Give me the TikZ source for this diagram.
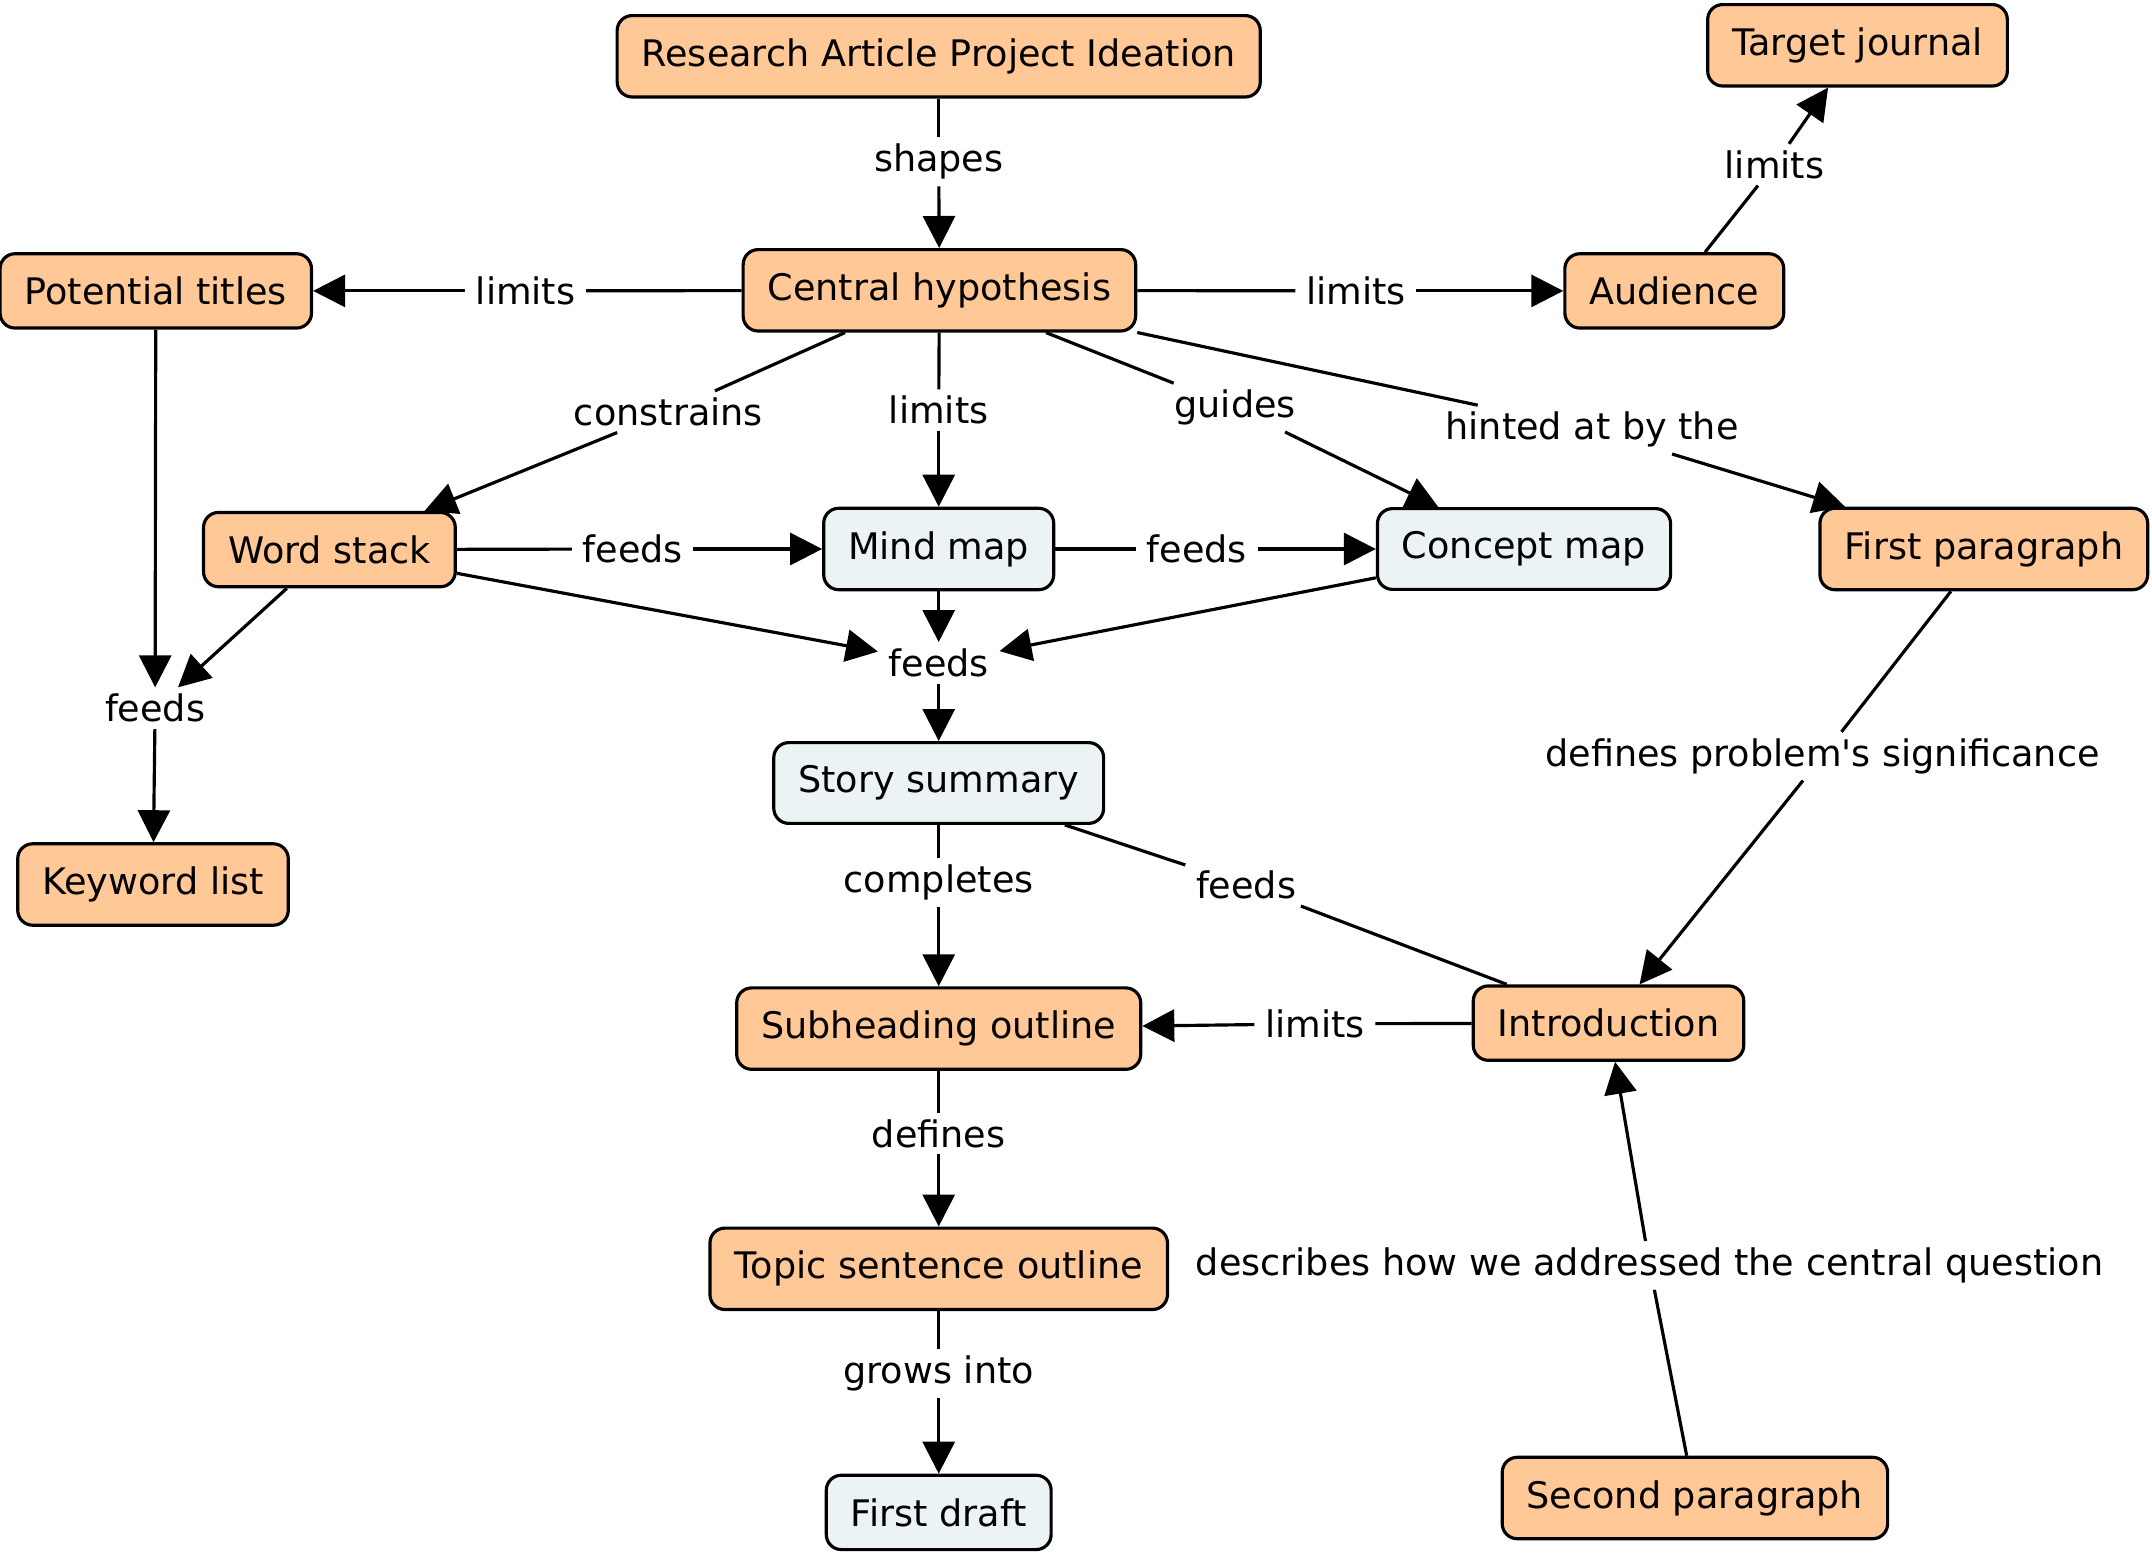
\documentclass[tikz,border=0pt]{standalone}
\usepackage{fontspec}
\setmainfont{DejaVu Sans}[Ligatures=TeXOff]
\usetikzlibrary{arrows.meta}
\definecolor{peach}{RGB}{255,200,150}
\definecolor{paleblue}{RGB}{236,243,245}
\newcommand{\cmaparrow}{Triangle[length=3.2mm,width=3.2mm]}
\tikzset{
  concept/.style={draw, line width=0.9pt, rounded corners=1.5mm, fill=peach,
    inner xsep=2.45mm, inner ysep=2.3mm, font=\fontsize{10.4}{12}\selectfont},
  resource/.style={concept, fill=paleblue},
  phrase/.style={inner xsep=1mm, inner ysep=0.6mm, font=\fontsize{10.4}{12}\selectfont},
  link/.style={line width=0.9pt},
  tolink/.style={link, -\cmaparrow},
}
\begin{document}
\begin{tikzpicture}[x=0.01cm, y=-0.01cm]
  % frame is (0,0) to (2152,1555), y going down
  \useasboundingbox (0,0) rectangle (2152,1555);

  % concepts
  \node[concept] (rap) at (938.7, 56.3) {Research Article Project Ideation};
  \node[concept] (tj) at (1857.5, 45.3) {Target journal};
  \node[concept] (hyp) at (939.4, 290.3) {Central hypothesis};
  \node[concept] (pt) at (155.8, 290.9) {Potential titles};
  \node[concept] (aud) at (1674.3, 290.9) {Audience};
  \node[concept] (ws) at (329.4, 549.6) {Word stack};
  \node[resource] (mm) at (938.7, 549) {Mind map};
  \node[resource] (cm) at (1524, 549) {Concept map};
  \node[concept] (fp) at (1983.8, 549) {First paragraph};
  \node[resource] (ss) at (938.7, 783) {Story summary};
  \node[concept] (kl) at (153, 884.5) {Keyword list};
  \node[concept] (so) at (938.7, 1028.6) {Subheading outline};
  \node[concept] (intro) at (1608.5, 1023.1) {Introduction};
  \node[concept] (tso) at (938.7, 1268.8) {Topic sentence outline};
  \node[resource] (fd) at (938.7, 1512.4) {First draft};
  \node[concept] (sp) at (1694.9, 1498) {Second paragraph};

  % linking phrases
  \node[phrase] (shapes) at (938.7, 161.9) {shapes};
  \node[phrase] (limpt) at (525.6, 290.9) {limits};
  \node[phrase] (limaud) at (1355.9, 290.9) {limits};
  \node[phrase] (limtj) at (1774.5, 164.7) {limits};
  \node[phrase] (constr) at (668.4, 411.7) {constrains};
  \node[phrase] (limmm) at (938.7, 410.3) {limits};
  \node[phrase] (guides) at (1235.2, 407.6) {guides};
  \node[phrase] (hinted) at (1592, 429.6) {hinted at by the};
  \node[phrase] (feedwm) at (632.7, 549) {feeds};
  \node[phrase] (feedmc) at (1196.7, 549) {feeds};
  \node[phrase] (feedc) at (938.7, 662.9) {feeds};
  \node[phrase] (feedl) at (155.1, 708.2) {feeds};
  \node[phrase] (defsig) at (1822.5, 756.2) {defines problem's significance};
  \node[phrase] (compl) at (938.7, 882.5) {completes};
  \node[phrase] (feedsi) at (1246.1, 885.2) {feeds};
  \node[phrase] (limso) at (1314.8, 1023.8) {limits};
  \node[phrase] (defs) at (938.7, 1133.6) {defines};
  \node[phrase] (grows) at (938.7, 1373.8) {grows into};
  \node[phrase] (descr) at (1649.6, 1265.4) {describes how we addressed the central question};

  % links
  \draw[link] (rap) -- (shapes);
  \draw[tolink] (shapes) -- (hyp);
  \draw[link] (hyp) -- (limpt);
  \draw[tolink] (limpt) -- (pt);
  \draw[link] (hyp) -- (limaud);
  \draw[tolink] (limaud) -- (aud);
  \draw[link] (aud) -- (limtj);
  \draw[tolink] (limtj) -- (tj);
  \draw[link] (hyp) -- (constr);
  \draw[tolink] (constr) -- (ws);
  \draw[link] (hyp) -- (limmm);
  \draw[tolink] (limmm) -- (mm);
  \draw[link] (hyp) -- (guides);
  \draw[tolink] (guides) -- (cm);
  \draw[link] (hyp) -- (hinted);
  \draw[tolink] (hinted) -- (fp);
  \draw[link] (ws) -- (feedwm);
  \draw[tolink] (feedwm) -- (mm);
  \draw[link] (mm) -- (feedmc);
  \draw[tolink] (feedmc) -- (cm);
  \draw[tolink] (ws) -- (feedc);
  \draw[tolink] (mm) -- (feedc);
  \draw[tolink] (cm) -- (feedc);
  \draw[tolink] (feedc) -- (ss);
  \draw[tolink] (pt) -- (feedl);
  \draw[tolink] (ws) -- (feedl);
  \draw[tolink] (feedl) -- (kl);
  \draw[link] (fp) -- (defsig);
  \draw[tolink] (defsig) -- (intro);
  \draw[link] (ss) -- (compl);
  \draw[tolink] (compl) -- (so);
  \draw[link] (ss) -- (feedsi) -- (intro);
  \draw[link] (intro) -- (limso);
  \draw[tolink] (limso) -- (so);
  \draw[link] (so) -- (defs);
  \draw[tolink] (defs) -- (tso);
  \draw[link] (tso) -- (grows);
  \draw[tolink] (grows) -- (fd);
  \draw[link] (sp) -- (descr);
  \draw[tolink] (descr) -- (intro);

\end{tikzpicture}
\end{document}
